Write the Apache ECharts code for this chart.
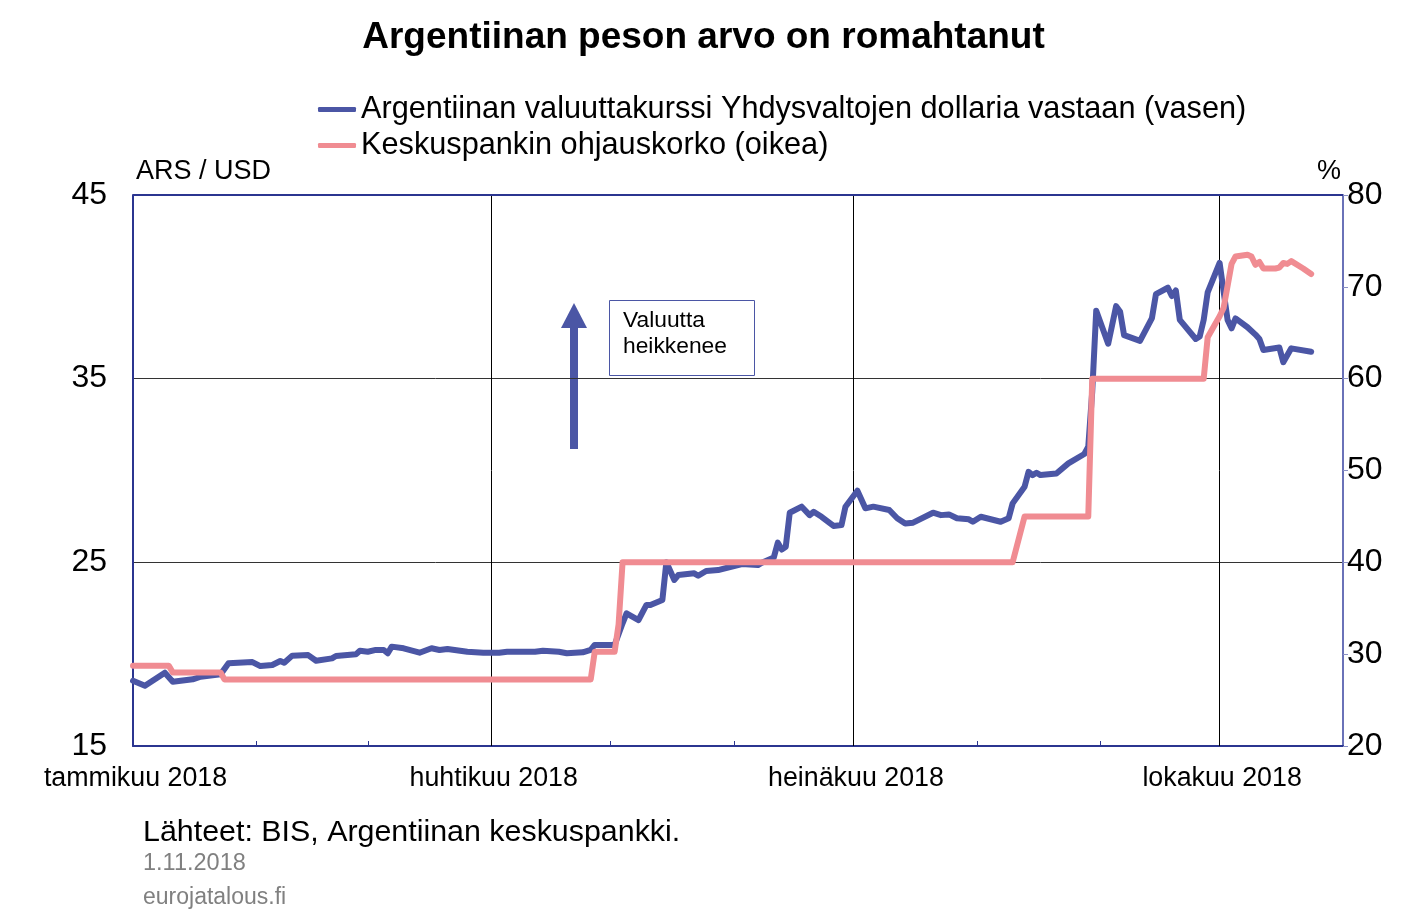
<!DOCTYPE html>
<html>
<head>
<meta charset="utf-8">
<script src="https://cdn.jsdelivr.net/npm/echarts@6/dist/echarts.min.js"></script>
<style>
html,body{margin:0;padding:0;background:#fff;}
#chart{width:1407px;height:920px;}
</style>
</head>
<body>
<div id="chart"></div>
<script>
// ---- Data ----
const chartTitle = 'Argentiinan peson arvo on romahtanut';
const seriesNames = ['Argentiinan valuuttakurssi Yhdysvaltojen dollaria vastaan (vasen)', 'Keskuspankin ohjauskorko (oikea)'];
const leftAxisName = 'ARS / USD';
const rightAxisName = '%';
const sourceText = 'Lähteet: BIS, Argentiinan keskuspankki.';
const dateText = '1.11.2018';
const siteText = 'eurojatalous.fi';
const annotationText = ['Valuutta', 'heikkenee'];

const quarterDates = ['2018-01-01', '2018-04-01', '2018-07-01', '2018-10-01'];
const quarterLabels = ['tammikuu 2018', 'huhtikuu 2018', 'heinäkuu 2018', 'lokakuu 2018'];
const gridQuarterDates = ['2018-04-01', '2018-07-01', '2018-10-01'];

const fxDates = ['2018-01-01','2018-01-04','2018-01-09','2018-01-11','2018-01-16','2018-01-18','2018-01-23','2018-01-25','2018-01-31',
'2018-02-02','2018-02-05','2018-02-07','2018-02-08','2018-02-10','2018-02-14','2018-02-16','2018-02-20','2018-02-21','2018-02-26','2018-02-27',
'2018-03-01','2018-03-03','2018-03-05','2018-03-06','2018-03-07','2018-03-10','2018-03-14','2018-03-17','2018-03-19','2018-03-21','2018-03-26','2018-03-30',
'2018-04-03','2018-04-05','2018-04-12','2018-04-14','2018-04-18','2018-04-20','2018-04-24','2018-04-26','2018-04-27',
'2018-05-02','2018-05-04','2018-05-05','2018-05-08','2018-05-10','2018-05-11','2018-05-14','2018-05-15','2018-05-17','2018-05-18','2018-05-22','2018-05-23','2018-05-25','2018-05-28',
'2018-06-01','2018-06-03','2018-06-07','2018-06-08','2018-06-11','2018-06-12','2018-06-13','2018-06-14','2018-06-15','2018-06-18','2018-06-20','2018-06-21','2018-06-23','2018-06-26','2018-06-28','2018-06-29',
'2018-07-02','2018-07-04','2018-07-06','2018-07-10','2018-07-12','2018-07-14','2018-07-16','2018-07-21','2018-07-23','2018-07-25','2018-07-27','2018-07-30','2018-07-31',
'2018-08-02','2018-08-07','2018-08-09','2018-08-10','2018-08-13','2018-08-14','2018-08-15','2018-08-16','2018-08-17','2018-08-21','2018-08-24','2018-08-28','2018-08-29','2018-08-30','2018-08-31',
'2018-09-03','2018-09-05','2018-09-06','2018-09-07','2018-09-11','2018-09-14','2018-09-15','2018-09-18','2018-09-19','2018-09-20','2018-09-21','2018-09-25','2018-09-26','2018-09-27','2018-09-28',
'2018-10-01','2018-10-03','2018-10-04','2018-10-05','2018-10-08','2018-10-10','2018-10-11','2018-10-12','2018-10-16','2018-10-17','2018-10-19','2018-10-24'];
const fxValues = [18.55,18.28,18.99,18.5,18.63,18.77,18.9,19.5,19.57,
19.35,19.41,19.63,19.53,19.92,19.95,19.64,19.77,19.9,19.99,20.19,
20.13,20.23,20.23,20.05,20.41,20.32,20.08,20.32,20.23,20.28,20.13,20.08,
20.08,20.13,20.13,20.19,20.13,20.05,20.1,20.23,20.5,
20.5,21.68,22.22,21.86,22.68,22.68,22.95,25.0,24.04,24.31,24.4,24.27,24.53,24.58,
24.8,24.91,24.85,24.98,25.27,26.07,25.7,25.85,27.7,28.03,27.57,27.75,27.48,26.98,27.03,28.03,
28.9,27.94,28.03,27.85,27.4,27.12,27.16,27.7,27.57,27.61,27.4,27.34,27.21,
27.48,27.21,27.4,28.21,29.12,29.93,29.75,29.88,29.75,29.84,30.39,30.9,31.3,34.3,38.7,
36.9,38.95,38.64,37.37,37.06,38.3,39.6,39.95,39.5,39.8,38.2,37.16,37.3,38.2,39.7,
41.3,38.2,37.74,38.28,37.8,37.4,37.16,36.56,36.7,35.9,36.65,36.47];

const rateDates = ['2018-01-01','2018-01-10','2018-01-11','2018-01-23','2018-01-24','2018-04-26','2018-04-27','2018-05-02','2018-05-03','2018-05-04',
'2018-08-10','2018-08-13','2018-08-29','2018-08-30','2018-09-27','2018-09-28','2018-10-01','2018-10-02','2018-10-04','2018-10-05','2018-10-08',
'2018-10-09','2018-10-10','2018-10-11','2018-10-12','2018-10-15','2018-10-16','2018-10-17','2018-10-18','2018-10-19','2018-10-22','2018-10-24'];
const rateValues = [28.75,28.75,28.0,28.0,27.25,27.25,30.25,30.25,33.25,40,
40,45,45,60,60,64.5,66.8,67.7,72.5,73.3,73.5,
73.3,72.4,72.7,72.0,72.0,72.1,72.6,72.5,72.8,72.0,71.4];

const leftMin = 15, leftMax = 45, leftStep = 10;
const rightMin = 20, rightMax = 80, rightStep = 10;

// ---- Styles ----
const FONT = '"Liberation Sans", Arial, sans-serif';
const NAVY = '#2B3590';
const BLUE = '#4B56A5';
const RED = '#F08C92';

const chart = echarts.init(document.getElementById('chart'), null, {renderer: 'canvas'});

const option = {
  animation: false,
  backgroundColor: '#fff',
  textStyle: {fontFamily: FONT},
  title: [
    {text: chartTitle, left: 'center', top: 19, padding: 0,
     textStyle: {fontSize: 37, fontWeight: 'bold', color: '#000', fontFamily: FONT}},
    {text: sourceText, left: 143, top: 818, padding: 0,
     textStyle: {fontSize: 30.4, fontWeight: 'normal', color: '#000', fontFamily: FONT}},
    {text: dateText, left: 143, top: 852, padding: 0,
     textStyle: {fontSize: 23.5, fontWeight: 'normal', color: '#808080', fontFamily: FONT}},
    {text: siteText, left: 143, top: 886, padding: 0,
     textStyle: {fontSize: 23, fontWeight: 'normal', color: '#808080', fontFamily: FONT}}
  ],
  legend: {
    orient: 'vertical', left: 318, top: 94, padding: 0,
    icon: 'roundRect', itemWidth: 38, itemHeight: 5, itemGap: 5,
    textStyle: {fontSize: 30.7, color: '#000', fontFamily: FONT, lineHeight: 31},
    data: seriesNames
  },
  grid: {left: 133, right: 64, top: 195, bottom: 174, containLabel: false},
  xAxis: {
    type: 'time',
    min: quarterDates[0], max: '2018-11-01',
    minInterval: 28 * 86400000, maxInterval: 31 * 86400000,
    axisLine: {show: true, lineStyle: {color: NAVY, width: 2}},
    axisTick: {show: true, inside: true, length: 5, lineStyle: {color: NAVY, width: 1}},
    splitLine: {show: false},
    axisLabel: {
      fontSize: 26.8, color: '#000', fontFamily: FONT, margin: 19, hideOverlap: false,
      padding: [0, 0, 0, 5],
      showMinLabel: true, showMaxLabel: false,
      formatter: function (value) {
        const d = new Date(value);
        for (let i = 0; i < quarterDates.length; i++) {
          const q = echarts.time.parse(quarterDates[i]);
          if (q.getFullYear() === d.getFullYear() && q.getMonth() === d.getMonth() && d.getDate() === 1) return quarterLabels[i];
        }
        return '';
      }
    }
  },
  yAxis: [
    {
      type: 'value', position: 'left', min: leftMin, max: leftMax, interval: leftStep,
      name: leftAxisName, nameLocation: 'end', nameGap: 10,
      nameTextStyle: {fontSize: 27, color: '#000', fontFamily: FONT, align: 'left', verticalAlign: 'bottom', padding: [0, 0, 0, 3]},
      axisLine: {show: true, lineStyle: {color: NAVY, width: 2}},
      axisTick: {show: false},
      axisLabel: {fontSize: 32, color: '#000', fontFamily: FONT, margin: 26},
      splitLine: {show: true, lineStyle: {color: [NAVY, '#333', '#333', NAVY], width: 1}}
    },
    {
      type: 'value', position: 'right', min: rightMin, max: rightMax, interval: rightStep,
      name: rightAxisName, nameLocation: 'end', nameGap: 10,
      nameTextStyle: {fontSize: 27, color: '#000', fontFamily: FONT, align: 'right', verticalAlign: 'bottom', padding: [0, 2, 0, 0]},
      axisLine: {show: true, lineStyle: {color: '#6A72B8', width: 2}},
      axisTick: {show: true, length: 5, lineStyle: {color: '#8A90C4', width: 1}},
      axisLabel: {fontSize: 32, color: '#000', fontFamily: FONT, margin: 4},
      splitLine: {show: false}
    }
  ],
  series: [
    {
      name: seriesNames[0], type: 'line', yAxisIndex: 0,
      data: fxDates.map((d, i) => [d, fxValues[i]]),
      showSymbol: false, symbol: 'none', z: 3,
      lineStyle: {color: BLUE, width: 6, join: 'round', cap: 'round'},
      itemStyle: {color: BLUE},
      markLine: {
        silent: true, symbol: 'none', z: 1, animation: false,
        label: {show: false},
        lineStyle: {color: '#000', width: 1, type: 'solid'},
        data: gridQuarterDates.map(d => ({xAxis: d})).concat([{yAxis: leftMax, lineStyle: {color: NAVY, width: 2, type: 'solid'}}])
      }
    },
    {
      name: seriesNames[1], type: 'line', yAxisIndex: 1,
      data: rateDates.map((d, i) => [d, rateValues[i]]),
      showSymbol: false, symbol: 'none', z: 4,
      lineStyle: {color: RED, width: 6, join: 'round', cap: 'round'},
      itemStyle: {color: RED}
    }
  ],
  graphic: [
    {
      type: 'group', left: 561, top: 300, z: 10,
      children: [
        {type: 'rect', shape: {x: 9, y: 26, width: 8, height: 123}, style: {fill: BLUE}},
        {type: 'polygon', shape: {points: [[0, 28], [26, 28], [13, 3]]}, style: {fill: BLUE}},
        {type: 'rect', shape: {x: 48.5, y: 0.5, width: 145, height: 75}, style: {fill: '#fff', stroke: BLUE, lineWidth: 1}},
        {type: 'text', x: 62, y: 8, style: {text: annotationText.join('\n'), fontSize: 22.8, lineHeight: 26, fill: '#000', fontFamily: FONT}}
      ]
    }
  ]
};

chart.setOption(option);
</script>
</body>
</html>
